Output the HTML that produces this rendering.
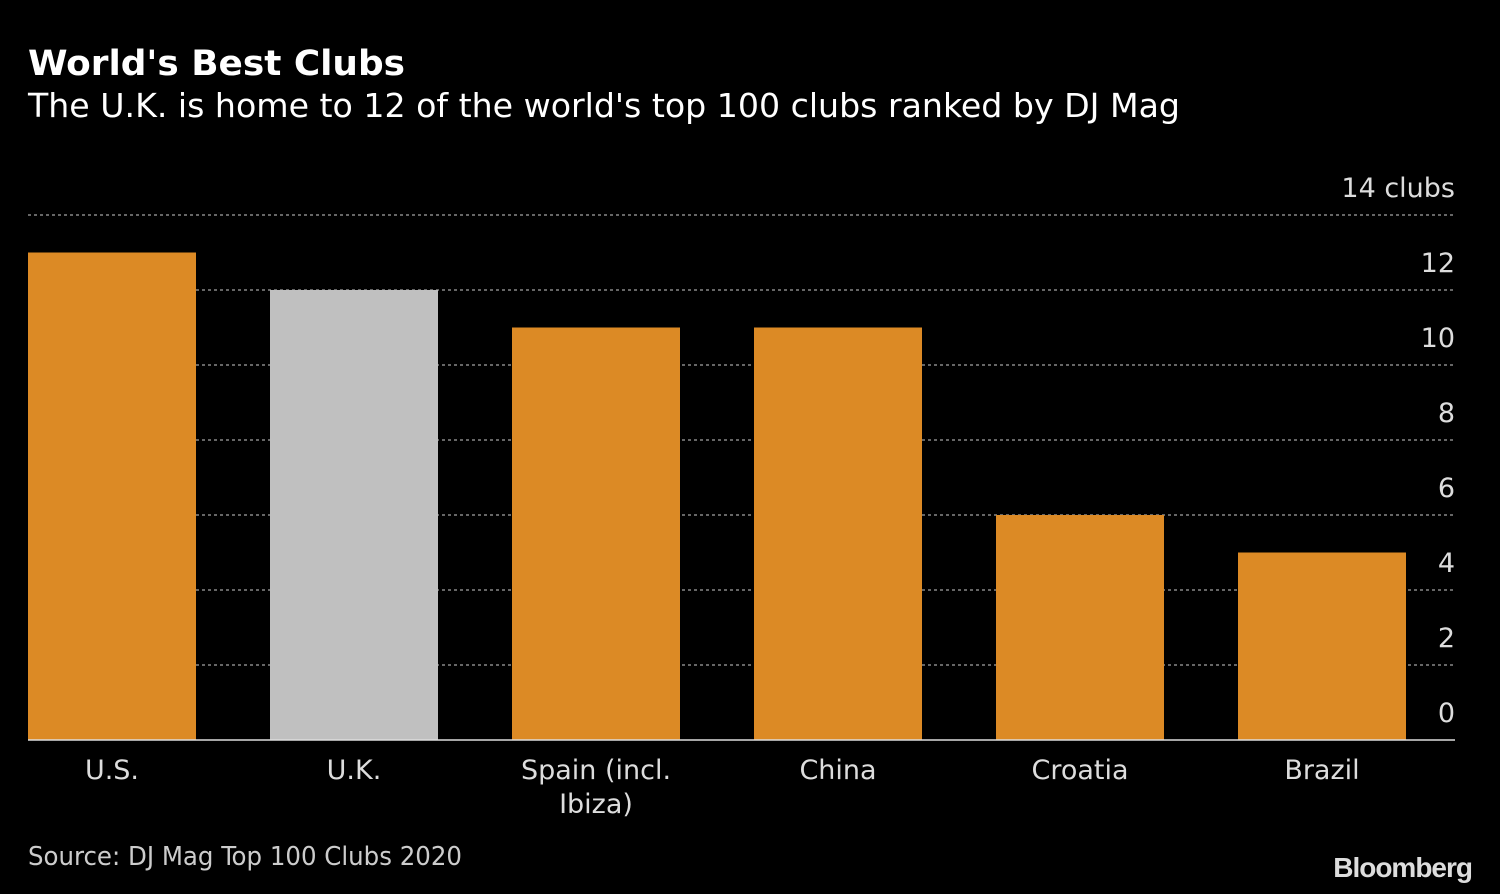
<!DOCTYPE html>
<html><head><meta charset="utf-8"><style>
html,body{margin:0;padding:0;background:#000;}
svg{display:block;font-family:"DejaVu Sans Condensed","DejaVu Sans","Liberation Sans",sans-serif;}
</style></head><body>
<svg id="chart" width="1500" height="894" viewBox="0 0 1500 894">
<rect x="0" y="0" width="1500" height="894" fill="#000"/>
<text x="28" y="75" fill="#fff" font-size="35" font-weight="bold" textLength="377" lengthAdjust="spacingAndGlyphs">World's Best Clubs</text>
<text x="28" y="117" fill="#fff" font-size="33" textLength="1152" lengthAdjust="spacingAndGlyphs">The U.K. is home to 12 of the world's top 100 clubs ranked by DJ Mag</text>
<g id="grid"></g>
<g id="bars"></g>
<g id="ticks"></g>
<g id="cats"></g>
<line x1="28" x2="1455" y1="740" y2="740" stroke="#ddd" stroke-width="1.5"/>
<text x="28" y="865" fill="#ccc" font-size="26" textLength="434" lengthAdjust="spacingAndGlyphs">Source: DJ Mag Top 100 Clubs 2020</text>
<text x="1472" y="877" fill="#ddd" font-size="28" font-weight="bold" text-anchor="end" font-family="Liberation Sans, sans-serif" letter-spacing="-1">Bloomberg</text>
</svg>
<script>
const categories = [["U.S."],["U.K."],["Spain (incl.","Ibiza)"],["China"],["Croatia"],["Brazil"]];
const values = [13, 12, 11, 11, 6, 5];
const highlight = [false, true, false, false, false, false];
const tickValues = [0, 2, 4, 6, 8, 10, 12, 14];
const tickLabels = ["0","2","4","6","8","10","12","14 clubs"];
const NS = "http://www.w3.org/2000/svg";
const y0 = 740, pxPerUnit = 37.5;
function yScale(v){ return y0 - v * pxPerUnit; }
function xBand(i){ return 28 + i * 242; }
const bw = 168;
const grid = document.getElementById('grid'), bars = document.getElementById('bars'),
      ticks = document.getElementById('ticks'), cats = document.getElementById('cats');
tickValues.forEach((t, i) => {
  const y = yScale(t);
  if (t > 0) {
    const l = document.createElementNS(NS, 'line');
    l.setAttribute('x1', 28); l.setAttribute('x2', 1455);
    l.setAttribute('y1', y); l.setAttribute('y2', y);
    l.setAttribute('stroke', '#888'); l.setAttribute('stroke-width', '1.5');
    l.setAttribute('stroke-dasharray', '3 3');
    
    
    grid.appendChild(l);
  }
  const tx = document.createElementNS(NS, 'text');
  tx.setAttribute('x', 1455); tx.setAttribute('y', y - 18);
  tx.setAttribute('text-anchor', 'end'); tx.setAttribute('fill', '#ddd');
  tx.setAttribute('font-size', '27');
  tx.setAttribute('font-family', 'DejaVu Sans, sans-serif');
  tx.textContent = tickLabels[i];
  
  
  ticks.appendChild(tx);
});
values.forEach((v, i) => {
  const r = document.createElementNS(NS, 'rect');
  r.setAttribute('x', xBand(i)); r.setAttribute('width', bw);
  r.setAttribute('y', yScale(v)); r.setAttribute('height', y0 - yScale(v));
  r.setAttribute('fill', highlight[i] ? '#c0c0c0' : '#dc8a25');
  
  
  bars.appendChild(r);
  categories[i].forEach((line, j) => {
    const t = document.createElementNS(NS, 'text');
    t.setAttribute('x', xBand(i) + bw / 2); t.setAttribute('y', 779 + j * 34);
    t.setAttribute('text-anchor', 'middle'); t.setAttribute('fill', '#ddd');
    t.setAttribute('font-size', '27');
    t.setAttribute('font-family', 'DejaVu Sans, sans-serif');
    t.textContent = line;
    
    
    cats.appendChild(t);
  });
});
</script>
</body></html>
